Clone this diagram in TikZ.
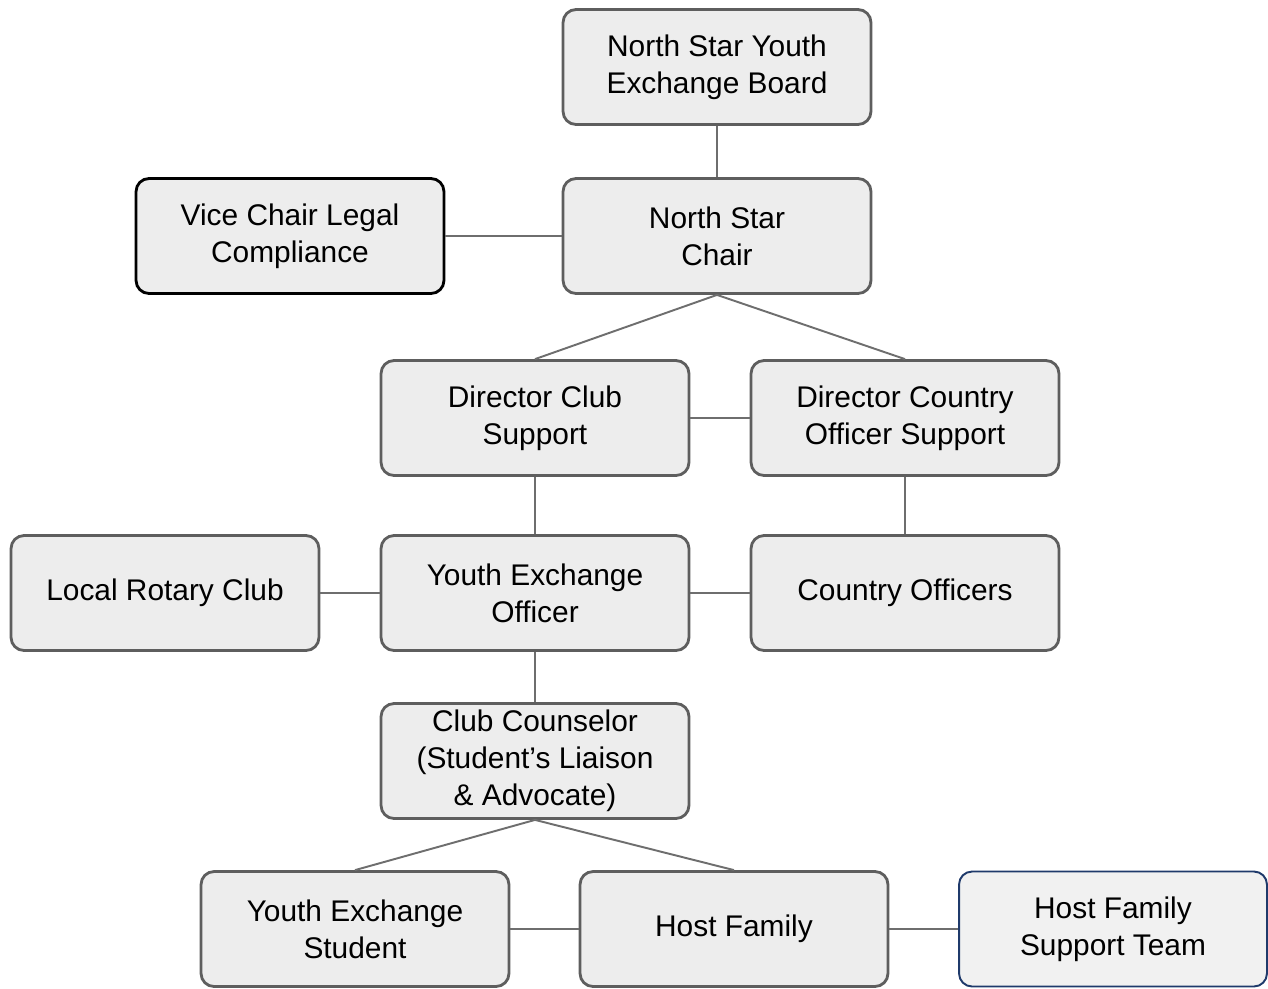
\documentclass[tikz,border=0pt]{standalone}
\usepackage{fontspec}
\setmainfont{Liberation Sans}
\usetikzlibrary{positioning}

\definecolor{boxfill}{HTML}{EDEDED}
\definecolor{boxline}{HTML}{5E5E5E}
\definecolor{linkgray}{HTML}{6E6E6E}
\definecolor{teamblue}{HTML}{1F3A6B}

\begin{document}
\begin{tikzpicture}[
    x=0.02cm, y=-0.02cm,
    unidade/.style={rectangle, rounded corners=0.26cm, draw=boxline, line width=1.6pt, fill=boxfill,
        minimum width=6.16cm, minimum height=2.3cm, align=center,
        font=\fontsize{17}{21}\selectfont},
    legal/.style={unidade, draw=black},
    equipe/.style={unidade, draw=teamblue, line width=1.1pt, fill=boxfill!80!white},
    ligacao/.style={draw=linkgray, line width=1.1pt}
]
\useasboundingbox (0,0) rectangle (1268,988);
% ---------- top ----------
\node[unidade] (board) at (717,67)  {North Star Youth\\Exchange Board};
\node[unidade] (chair) at (717,236) {North Star\\Chair};
\node[legal]   (vice)  at (290,236) {Vice Chair Legal\\Compliance};
% ---------- directors ----------
\node[unidade] (dclub) at (535,418) {Director Club\\Support};
\node[unidade] (dcoun) at (905,418) {Director Country\\Officer Support};
% ---------- officers ----------
\node[unidade] (rotary)  at (165,593) {Local Rotary Club};
\node[unidade] (yeo)     at (535,593) {Youth Exchange\\Officer};
\node[unidade] (country) at (905,593) {Country Officers};
% ---------- counselor ----------
\node[unidade] (couns) at (535,761) {Club Counselor\\(Student's Liaison\\\& Advocate)};
% ---------- bottom ----------
\node[unidade] (student) at (355,929) {Youth Exchange\\Student};
\node[unidade] (host)    at (734,929) {Host Family};
\node[equipe]  (team)    at (1113,929) {Host Family\\Support Team};
% ---------- links ----------
\draw[ligacao] (board) -- (chair);
\draw[ligacao] (vice) -- (chair);
\draw[ligacao] (chair.south) -- (dclub.north);
\draw[ligacao] (chair.south) -- (dcoun.north);
\draw[ligacao] (dclub) -- (dcoun);
\draw[ligacao] (dclub) -- (yeo);
\draw[ligacao] (dcoun) -- (country);
\draw[ligacao] (rotary) -- (yeo);
\draw[ligacao] (yeo) -- (country);
\draw[ligacao] (yeo) -- (couns);
\draw[ligacao] (couns.south) -- (student.north);
\draw[ligacao] (couns.south) -- (host.north);
\draw[ligacao] (student) -- (host);
\draw[ligacao] (host) -- (team);
\end{tikzpicture}
\end{document}
